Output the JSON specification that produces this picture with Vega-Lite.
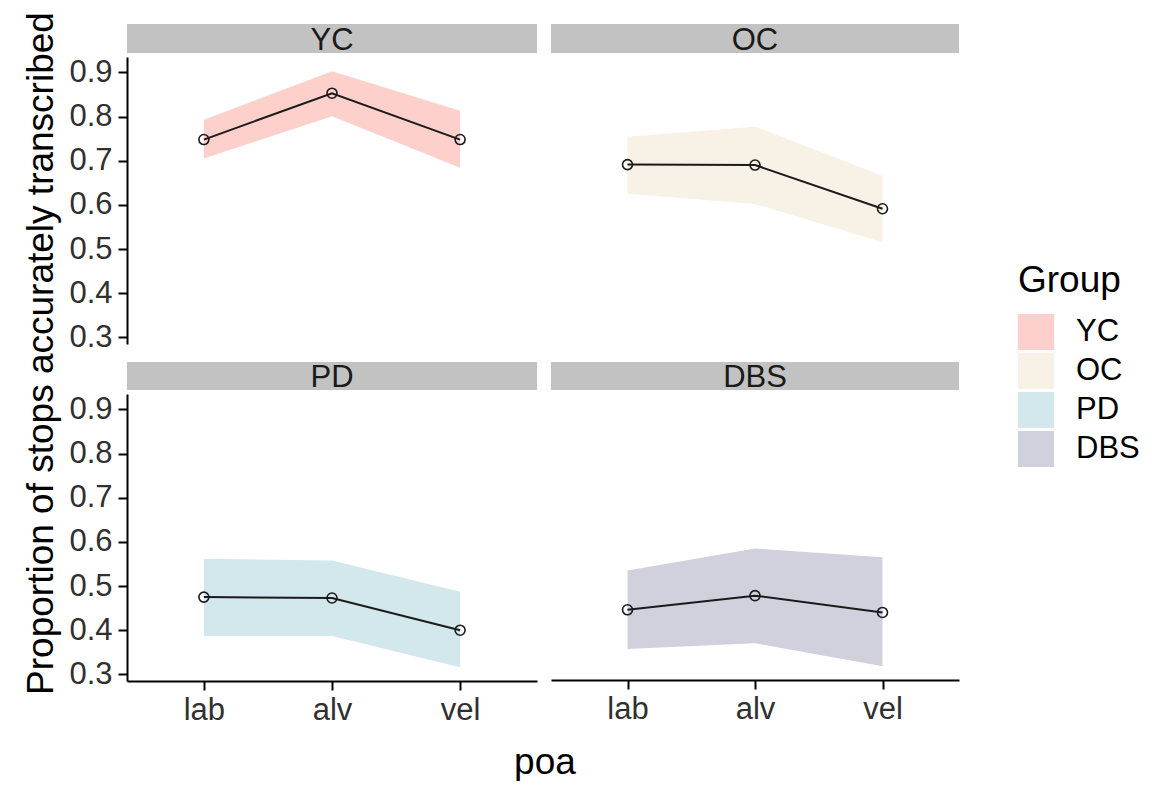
{
  "$schema": "https://vega.github.io/schema/vega-lite/v6.json",
  "background": "white",
  "padding": {"left": 22, "top": 12, "right": 5, "bottom": 0},
  "datasets": {
    "summary": [
      {"Group": "YC", "poa": "lab", "mean": 0.748, "lower": 0.705, "upper": 0.793},
      {"Group": "YC", "poa": "alv", "mean": 0.853, "lower": 0.801, "upper": 0.903},
      {"Group": "YC", "poa": "vel", "mean": 0.748, "lower": 0.684, "upper": 0.813},
      {"Group": "OC", "poa": "lab", "mean": 0.689, "lower": 0.623, "upper": 0.752},
      {"Group": "OC", "poa": "alv", "mean": 0.688, "lower": 0.600, "upper": 0.775},
      {"Group": "OC", "poa": "vel", "mean": 0.589, "lower": 0.513, "upper": 0.664},
      {"Group": "PD", "poa": "lab", "mean": 0.475, "lower": 0.387, "upper": 0.562},
      {"Group": "PD", "poa": "alv", "mean": 0.473, "lower": 0.387, "upper": 0.558},
      {"Group": "PD", "poa": "vel", "mean": 0.400, "lower": 0.316, "upper": 0.487},
      {"Group": "DBS", "poa": "lab", "mean": 0.444, "lower": 0.355, "upper": 0.533},
      {"Group": "DBS", "poa": "alv", "mean": 0.476, "lower": 0.368, "upper": 0.583},
      {"Group": "DBS", "poa": "vel", "mean": 0.438, "lower": 0.316, "upper": 0.563}
    ],
    "strips": [
      {"Group": "YC"}, {"Group": "OC"}, {"Group": "PD"}, {"Group": "DBS"}
    ]
  },
  "title": {
    "text": "Proportion of stops accurately transcribed",
    "orient": "left",
    "anchor": "middle",
    "font": "Liberation Sans",
    "fontSize": 37,
    "fontWeight": "normal",
    "color": "#000000",
    "offset": 8,
    "dx": 49
  },
  "vconcat": [
    {
      "hconcat": [
        {
          "vconcat": [
            {
              "width": 410, "height": 29,
              "view": {"fill": "#c2c2c2", "stroke": null},
              "data": {"name": "strips"},
              "transform": [{"filter": "datum.Group === 'YC'"}],
              "mark": {"type": "text", "font": "Liberation Sans", "fontSize": 31, "color": "#1a1a1a", "baseline": "middle", "align": "center", "dy": 2},
              "encoding": {"text": {"field": "Group"}}
            },
            {
              "width": 410, "height": 287,
              "data": {"name": "summary"},
              "transform": [{"filter": "datum.Group === 'YC'"}],
              "encoding": {
                "x": {"field": "poa", "type": "nominal", "sort": ["lab", "alv", "vel"], "scale": {"type": "point", "padding": 0.6}, "axis": null},
                "y": {"type": "quantitative", "scale": {"domain": [0.285, 0.935], "nice": false, "zero": false},
                      "axis": {"title": null, "values": [0.3, 0.4, 0.5, 0.6, 0.7, 0.8, 0.9], "format": ".1f"}}
              },
              "layer": [
                {"mark": {"type": "area", "opacity": 1},
                 "encoding": {"y": {"field": "lower"}, "y2": {"field": "upper"},
                              "fill": {"field": "Group", "type": "nominal", "title": "Group",
                                       "scale": {"domain": ["YC", "OC", "PD", "DBS"], "range": ["#fdd0cb", "#f8f1e5", "#d3e8ec", "#d1d1de"]}}}},
                {"mark": {"type": "line", "color": "#1a1a1a", "strokeWidth": 2}, "encoding": {"y": {"field": "mean"}}},
                {"mark": {"type": "point", "shape": "circle", "filled": false, "color": "#1a1a1a", "size": 100, "strokeWidth": 1.6, "opacity": 1}, "encoding": {"y": {"field": "mean"}}}
              ]
            }
          ],
          "spacing": 0
        },
        {
          "vconcat": [
            {
              "width": 408, "height": 29,
              "view": {"fill": "#c2c2c2", "stroke": null},
              "data": {"name": "strips"},
              "transform": [{"filter": "datum.Group === 'OC'"}],
              "mark": {"type": "text", "font": "Liberation Sans", "fontSize": 31, "color": "#1a1a1a", "baseline": "middle", "align": "center", "dy": 2},
              "encoding": {"text": {"field": "Group"}}
            },
            {
              "width": 408, "height": 287,
              "data": {"name": "summary"},
              "transform": [{"filter": "datum.Group === 'OC'"}],
              "encoding": {
                "x": {"field": "poa", "type": "nominal", "sort": ["lab", "alv", "vel"], "scale": {"type": "point", "padding": 0.6}, "axis": null},
                "y": {"type": "quantitative", "scale": {"domain": [0.285, 0.935], "nice": false, "zero": false}, "axis": null}
              },
              "layer": [
                {"mark": {"type": "area", "opacity": 1},
                 "encoding": {"y": {"field": "lower"}, "y2": {"field": "upper"},
                              "fill": {"field": "Group", "type": "nominal", "title": "Group",
                                       "scale": {"domain": ["YC", "OC", "PD", "DBS"], "range": ["#fdd0cb", "#f8f1e5", "#d3e8ec", "#d1d1de"]}}}},
                {"mark": {"type": "line", "color": "#1a1a1a", "strokeWidth": 2}, "encoding": {"y": {"field": "mean"}}},
                {"mark": {"type": "point", "shape": "circle", "filled": false, "color": "#1a1a1a", "size": 100, "strokeWidth": 1.6, "opacity": 1}, "encoding": {"y": {"field": "mean"}}}
              ]
            }
          ],
          "spacing": 0
        }
      ],
      "spacing": 14
    },
    {
      "title": {
        "text": "poa",
        "orient": "bottom",
        "anchor": "middle",
        "font": "Liberation Sans",
        "fontSize": 37,
        "fontWeight": "normal",
        "color": "#000000",
        "offset": 20,
        "dx": 31
      },
      "hconcat": [
        {
          "vconcat": [
            {
              "width": 410, "height": 28,
              "view": {"fill": "#c2c2c2", "stroke": null},
              "data": {"name": "strips"},
              "transform": [{"filter": "datum.Group === 'PD'"}],
              "mark": {"type": "text", "font": "Liberation Sans", "fontSize": 31, "color": "#1a1a1a", "baseline": "middle", "align": "center", "dy": 2},
              "encoding": {"text": {"field": "Group"}}
            },
            {
              "width": 410, "height": 287,
              "data": {"name": "summary"},
              "transform": [{"filter": "datum.Group === 'PD'"}],
              "encoding": {
                "x": {"field": "poa", "type": "nominal", "sort": ["lab", "alv", "vel"], "scale": {"type": "point", "padding": 0.6}, "axis": {"title": null, "labelAngle": 0}},
                "y": {"type": "quantitative", "scale": {"domain": [0.285, 0.935], "nice": false, "zero": false},
                      "axis": {"title": null, "values": [0.3, 0.4, 0.5, 0.6, 0.7, 0.8, 0.9], "format": ".1f"}}
              },
              "layer": [
                {"mark": {"type": "area", "opacity": 1},
                 "encoding": {"y": {"field": "lower"}, "y2": {"field": "upper"},
                              "fill": {"field": "Group", "type": "nominal", "title": "Group",
                                       "scale": {"domain": ["YC", "OC", "PD", "DBS"], "range": ["#fdd0cb", "#f8f1e5", "#d3e8ec", "#d1d1de"]}}}},
                {"mark": {"type": "line", "color": "#1a1a1a", "strokeWidth": 2}, "encoding": {"y": {"field": "mean"}}},
                {"mark": {"type": "point", "shape": "circle", "filled": false, "color": "#1a1a1a", "size": 100, "strokeWidth": 1.6, "opacity": 1}, "encoding": {"y": {"field": "mean"}}}
              ]
            }
          ],
          "spacing": 0
        },
        {
          "vconcat": [
            {
              "width": 408, "height": 28,
              "view": {"fill": "#c2c2c2", "stroke": null},
              "data": {"name": "strips"},
              "transform": [{"filter": "datum.Group === 'DBS'"}],
              "mark": {"type": "text", "font": "Liberation Sans", "fontSize": 31, "color": "#1a1a1a", "baseline": "middle", "align": "center", "dy": 2},
              "encoding": {"text": {"field": "Group"}}
            },
            {
              "width": 408, "height": 287,
              "data": {"name": "summary"},
              "transform": [{"filter": "datum.Group === 'DBS'"}],
              "encoding": {
                "x": {"field": "poa", "type": "nominal", "sort": ["lab", "alv", "vel"], "scale": {"type": "point", "padding": 0.6}, "axis": {"title": null, "labelAngle": 0}},
                "y": {"type": "quantitative", "scale": {"domain": [0.285, 0.935], "nice": false, "zero": false}, "axis": null}
              },
              "layer": [
                {"mark": {"type": "area", "opacity": 1},
                 "encoding": {"y": {"field": "lower"}, "y2": {"field": "upper"},
                              "fill": {"field": "Group", "type": "nominal", "title": "Group",
                                       "scale": {"domain": ["YC", "OC", "PD", "DBS"], "range": ["#fdd0cb", "#f8f1e5", "#d3e8ec", "#d1d1de"]}}}},
                {"mark": {"type": "line", "color": "#1a1a1a", "strokeWidth": 2}, "encoding": {"y": {"field": "mean"}}},
                {"mark": {"type": "point", "shape": "circle", "filled": false, "color": "#1a1a1a", "size": 100, "strokeWidth": 1.6, "opacity": 1}, "encoding": {"y": {"field": "mean"}}}
              ]
            }
          ],
          "spacing": 0
        }
      ],
      "spacing": 14
    }
  ],
  "spacing": 9,
  "resolve": {"scale": {"fill": "shared"}, "legend": {"fill": "shared"}},
  "config": {
    "view": {"stroke": null},
    "font": "Liberation Sans",
    "axis": {
      "domainColor": "#000000",
      "domainWidth": 2,
      "tickColor": "#000000",
      "tickWidth": 2,
      "tickSize": 9,
      "grid": false,
      "labelFont": "Liberation Sans",
      "labelFontSize": 31,
      "labelColor": "#303030",
      "labelPadding": 6
    },
    "axisX": {"labelPadding": 5},
    "legend": {
      "orient": "none",
      "legendX": 891,
      "legendY": 239,
      "titleFont": "Liberation Sans",
      "titleFontSize": 37,
      "titleFontWeight": "normal",
      "titleColor": "#000000",
      "titlePadding": 14,
      "labelFont": "Liberation Sans",
      "labelFontSize": 31,
      "labelColor": "#000000",
      "labelOffset": 22,
      "symbolType": "square",
      "symbolSize": 1296,
      "symbolStrokeWidth": 0,
      "rowPadding": 3
    }
  }
}
